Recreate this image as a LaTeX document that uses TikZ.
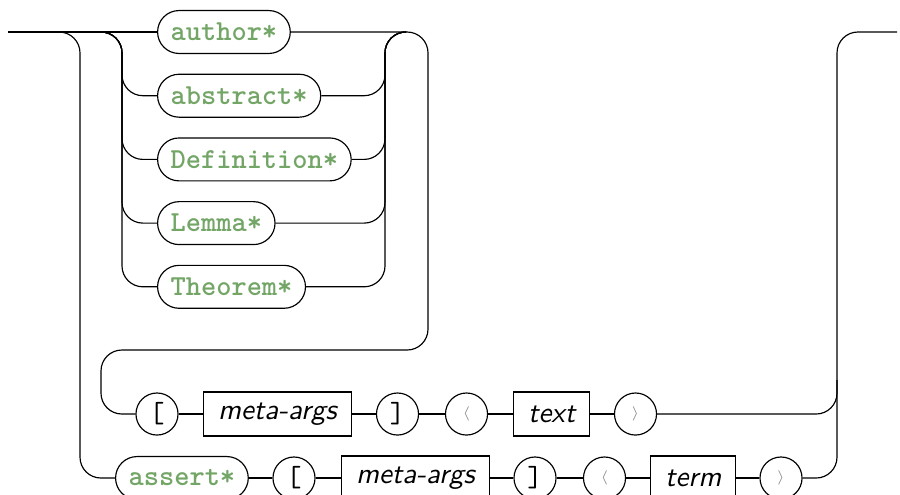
\documentclass[tikz,border=0pt]{standalone}
\usepackage{fontspec}
\definecolor{kwgreen}{rgb}{0.45,0.65,0.40}
\tikzset{
  x=0.3448pt, y=-0.3448pt,
  kw/.style={draw, rounded corners=7.4pt, minimum height=14.8pt,
    inner xsep=4.5pt, inner ysep=0pt, text=kwgreen, font=\ttfamily\bfseries},
  nt/.style={draw, rectangle, minimum height=15.2pt,
    inner xsep=5pt, inner ysep=0pt, font=\sffamily\itshape},
  tok/.style={draw, circle, minimum size=14.5pt, inner sep=0pt, font=\ttfamily},
  ang/.style={tok, font=\tiny, text=black!45},
  rail/.style={rounded corners=7.2pt}
}
\begin{document}
\begin{tikzpicture}
\useasboundingbox (0,0) rectangle (900,494);

% keyword alternatives
\node[kw, anchor=west] (author)   at (157,32)    {author*};
\node[kw, anchor=west] (abstract) at (157,95.7)  {abstract*};
\node[kw, anchor=west] (defn)     at (157,159.4) {Definition*};
\node[kw, anchor=west] (lemma)    at (157,223.1) {Lemma*};
\node[kw, anchor=west] (theorem)  at (157,286.8) {Theorem*};

% first sequence: [ meta-args ] < text >
\node[tok] (lbrA) at (157,414) {[};
\node[nt, anchor=west] (maA) at (203,414) {meta-args};
\node[tok] (rbrA) at (397.5,414) {]};
\node[ang] (laA) at (466.5,414) {$\langle$};
\node[nt, anchor=west] (txt) at (513,414) {text};
\node[ang] (raA) at (635.5,414) {$\rangle$};

% second sequence: assert* [ meta-args ] < term >
\node[kw, anchor=west] (assert) at (115,478) {assert*};
\node[tok] (lbrB) at (294,478) {[};
\node[nt, anchor=west] (maB) at (341,478) {meta-args};
\node[tok] (rbrB) at (535,478) {]};
\node[ang] (laB) at (604.5,478) {$\langle$};
\node[nt, anchor=west] (term) at (650,478) {term};
\node[ang] (raB) at (781,478) {$\rangle$};

% entry and exit points
\coordinate (start) at (8,32);
\coordinate (finish) at (897,32);
\draw (start) -- (author.west);

% outer branch down to the assert sequence
\draw[rail] (59,32) -| (80,478) -- (assert.west);

% inner branches into the keyword alternatives
\foreach \n in {abstract, defn, lemma, theorem}
  \draw[rail] (101,32) -| (122,0 |- \n.west) -- (\n.west);
\foreach \n in {abstract, defn, lemma, theorem}
  \draw[rail] (\n.east) -| (385,32) -- (406,32);

% loop back to the first sequence
\draw[rail] (author.east) -| (428,350) -| (101,414) -- (lbrA.west);

% first sequence connectors
\draw (lbrA) -- (maA);
\draw (maA) -- (rbrA);
\draw (rbrA) -- (laA);
\draw (laA) -- (txt);
\draw (txt) -- (raA);
\draw[rail] (raA.east) -| (837,32) -- (finish);

% second sequence connectors
\draw (assert) -- (lbrB);
\draw (lbrB) -- (maB);
\draw (maB) -- (rbrB);
\draw (rbrB) -- (laB);
\draw (laB) -- (term);
\draw (term) -- (raB);
\draw[rail] (raB.east) -| (837,380);
\end{tikzpicture}
\end{document}
